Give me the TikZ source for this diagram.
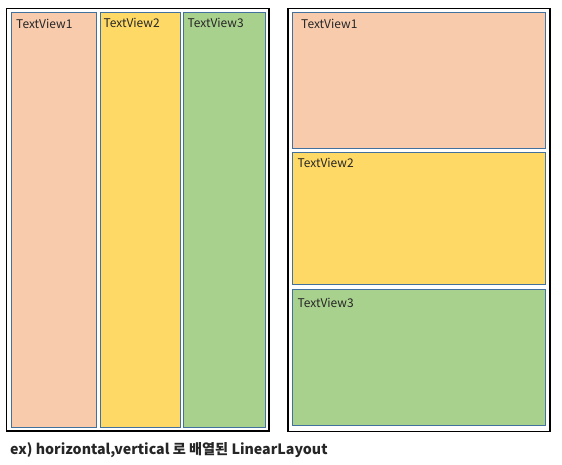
\documentclass[tikz,border=0pt]{standalone}
\usepackage{fontspec}
\setmainfont{Noto Sans CJK KR}
\newfontfamily\capfont{Noto Sans CJK KR}
\definecolor{peach}{HTML}{F8CBAD}
\definecolor{gold}{HTML}{FFD966}
\definecolor{leaf}{HTML}{A9D18E}
\definecolor{edge}{HTML}{41719C}
\definecolor{captxt}{HTML}{262626}
\tikzset{
  frame/.style={draw=black, line width=1.3pt},
  viewbox/.style={draw=edge, line width=1pt},
  lbl/.style={anchor=base west, inner sep=0pt, font=\fontsize{12}{14}\selectfont, text=black!85},
}
\begin{document}
\begin{tikzpicture}[x=1pt,y=-1pt]
\useasboundingbox (0,0) rectangle (562,464);
% left: horizontal
\draw[frame] (6.5,8.5) rectangle (269,431);
\draw[viewbox, fill=peach] (11.5,12.5) rectangle (96.5,427);
\draw[viewbox, fill=gold] (100.5,12.5) rectangle (180,427);
\draw[viewbox, fill=leaf] (183.5,12.5) rectangle (265.5,427);
\node[lbl] (h1) at (16,28.3) {TextView1};
\node[lbl] (h2) at (103.3,27.5) {TextView2};
\node[lbl] (h3) at (187.3,27.5) {TextView3};
% right: vertical
\draw[frame] (288,8.5) rectangle (550,431.5);
\draw[viewbox, fill=peach] (292.5,12.5) rectangle (545.5,148.3);
\draw[viewbox, fill=gold] (292.5,152.7) rectangle (545.5,284.3);
\draw[viewbox, fill=leaf] (292.5,289.3) rectangle (545.5,425);
\node[lbl] (v1) at (301,28.3) {TextView1};
\node[lbl] (v2) at (297.3,167.7) {TextView2};
\node[lbl] (v3) at (297.3,307.5) {TextView3};
% caption
\node[anchor=base west, inner sep=0pt, text=captxt, font=\capfont\bfseries\fontsize{14.2}{16}\selectfont] (cap) at (10,454) {ex) horizontal,vertical 로 배열된 LinearLayout};
\end{tikzpicture}
\end{document}
